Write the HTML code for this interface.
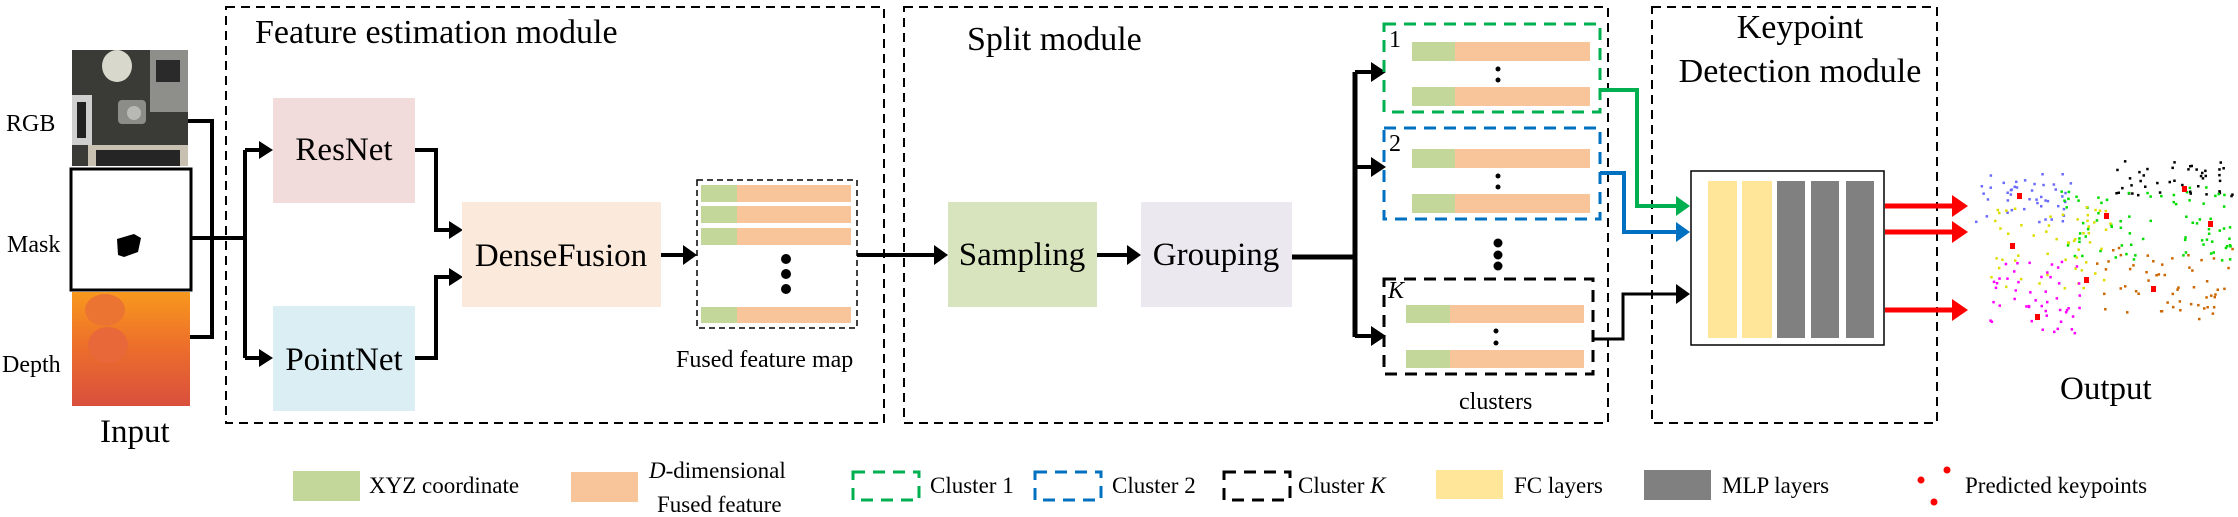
<!DOCTYPE html>
<html><head><meta charset="utf-8"><style>
html,body{margin:0;padding:0;background:#fff;}
svg{display:block;font-family:"Liberation Serif","Times New Roman",serif;}
svg text{font-family:"Liberation Serif","Times New Roman",serif;fill:#000;}
</style></head><body>
<svg id="s" width="2238" height="517" viewBox="0 0 2238 517" xmlns="http://www.w3.org/2000/svg" font-family="Liberation Serif, Times New Roman, serif">
<defs>
<linearGradient id="dg" x1="0" y1="0" x2="0" y2="1"><stop offset="0" stop-color="#f8981d"/><stop offset="0.5" stop-color="#ec6d2c"/><stop offset="1" stop-color="#d94f3d"/></linearGradient>
</defs>
<g fill="none" stroke="#000" stroke-width="2" stroke-dasharray="9 6">
<rect x="226" y="7" width="658" height="416"/>
<rect x="904" y="7" width="704" height="416"/>
<rect x="1652" y="7" width="285" height="416"/>
</g>
<text x="255" y="43" font-size="34">Feature estimation module</text>
<text x="967" y="50" font-size="34">Split module</text>
<text x="1800" y="38" font-size="34" text-anchor="middle">Keypoint</text>
<text x="1800" y="82" font-size="34" text-anchor="middle">Detection module</text>

<rect x="72" y="50" width="116" height="116" fill="#3a3a36"/>
<rect x="150" y="50" width="38" height="62" fill="#8e8f8a"/>
<rect x="156" y="60" width="24" height="22" fill="#2a2a2a"/>
<ellipse cx="117" cy="66" rx="15" ry="16" fill="#d8d8cc"/>
<rect x="118" y="100" width="28" height="24" rx="4" fill="#8c8c88"/>
<circle cx="134" cy="113" r="7" fill="#b8b8b4"/>
<rect x="72" y="95" width="20" height="50" fill="#cfcfcf"/>
<rect x="77" y="102" width="9" height="36" fill="#222"/>
<rect x="88" y="145" width="100" height="21" fill="#c8c0b0"/>
<rect x="96" y="150" width="84" height="16" fill="#252525"/>
<rect x="71" y="169" width="120" height="121" fill="#fff" stroke="#000" stroke-width="3"/>
<path d="M117 239 L134 234 L141 238 L138 252 L124 257 L118 255 Z" fill="#000"/>
<rect x="72" y="292" width="118" height="114" fill="url(#dg)"/>
<ellipse cx="105" cy="310" rx="20" ry="16" fill="#ec7432"/>
<ellipse cx="108" cy="345" rx="20" ry="18" fill="#e8683a"/>
<text x="6" y="131" font-size="24">RGB</text>
<text x="7" y="252" font-size="24">Mask</text>
<text x="2" y="372" font-size="24">Depth</text>
<text x="100" y="442" font-size="33">Input</text>

<g fill="none" stroke="#000" stroke-width="4">
<polyline points="188,121 212,121 212,337 190,337"/>
<line x1="191" y1="238" x2="245" y2="238"/>
<line x1="245" y1="150" x2="245" y2="358"/>
<line x1="245" y1="150" x2="262" y2="150"/>
<line x1="245" y1="358" x2="262" y2="358"/>
<polyline points="415,150 436,150 436,230 452,230"/>
<polyline points="415,358 436,358 436,277 452,277"/>
<line x1="661" y1="255" x2="686" y2="255"/>
<line x1="857" y1="255" x2="937" y2="255"/>
<line x1="1097" y1="255" x2="1130" y2="255"/>
<line x1="1292" y1="257" x2="1355" y2="257" stroke-width="5"/>
<line x1="1355" y1="72" x2="1355" y2="337" stroke-width="5"/>
<line x1="1355" y1="72" x2="1374" y2="72"/>
<line x1="1355" y1="167" x2="1374" y2="167"/>
<line x1="1355" y1="336" x2="1374" y2="336"/>
<polyline points="1594,339 1623,339 1623,294 1678,294" stroke-width="3"/>
</g>
<g fill="#000">
<polygon points="273,150 259,141 259,159"/>
<polygon points="273,358 259,349 259,367"/>
<polygon points="463,230 449,221 449,239"/>
<polygon points="463,277 449,268 449,286"/>
<polygon points="697,255 683,245 683,265"/>
<polygon points="948,255 934,245 934,265"/>
<polygon points="1141,255 1127,245 1127,265"/>
<polygon points="1386,72 1371,62 1371,82"/>
<polygon points="1386,167 1371,157 1371,177"/>
<polygon points="1386,336 1371,326 1371,346"/>
<polygon points="1690,294 1676,284 1676,304"/>
</g>

<rect x="273" y="98" width="142" height="105" fill="#f2dcdb"/>
<text x="344" y="160" font-size="33" text-anchor="middle">ResNet</text>
<rect x="273" y="306" width="142" height="105" fill="#dbeef3"/>
<text x="344" y="370" font-size="33" text-anchor="middle">PointNet</text>
<rect x="462" y="202" width="199" height="105" fill="#fbe9dc"/>
<text x="561" y="266" font-size="33" text-anchor="middle">DenseFusion</text>

<rect x="697" y="180" width="160" height="148" fill="none" stroke="#000" stroke-width="1.5" stroke-dasharray="6 4"/>
<g>
<rect x="701" y="185" width="36" height="17" fill="#c4d79b"/><rect x="737" y="185" width="114" height="17" fill="#f8c59b"/>
<rect x="701" y="206" width="36" height="17" fill="#c4d79b"/><rect x="737" y="206" width="114" height="17" fill="#f8c59b"/>
<rect x="701" y="228" width="36" height="17" fill="#c4d79b"/><rect x="737" y="228" width="114" height="17" fill="#f8c59b"/>
<rect x="701" y="307" width="36" height="16" fill="#c4d79b"/><rect x="737" y="307" width="114" height="16" fill="#f8c59b"/>
<circle cx="786" cy="259" r="5"/><circle cx="786" cy="274" r="5"/><circle cx="786" cy="289" r="5"/>
</g>
<text x="676" y="367" font-size="24">Fused feature map</text>

<rect x="948" y="202" width="149" height="105" fill="#d7e4bd"/>
<text x="1022" y="265" font-size="33" text-anchor="middle">Sampling</text>
<rect x="1141" y="202" width="151" height="105" fill="#ebe8f0"/>
<text x="1216" y="265" font-size="33" text-anchor="middle">Grouping</text>

<g fill="none" stroke-width="3" stroke-dasharray="12 8">
<rect x="1384" y="24" width="216" height="88" stroke="#00b050"/>
<rect x="1384" y="128" width="216" height="91" stroke="#0070c0"/>
<rect x="1384" y="279" width="209" height="95" stroke="#000"/>
</g>
<g>
<rect x="1412" y="42" width="43" height="19" fill="#c4d79b"/><rect x="1455" y="42" width="135" height="19" fill="#f8c59b"/>
<rect x="1412" y="87" width="43" height="19" fill="#c4d79b"/><rect x="1455" y="87" width="135" height="19" fill="#f8c59b"/>
<rect x="1412" y="149" width="43" height="19" fill="#c4d79b"/><rect x="1455" y="149" width="135" height="19" fill="#f8c59b"/>
<rect x="1412" y="194" width="43" height="19" fill="#c4d79b"/><rect x="1455" y="194" width="135" height="19" fill="#f8c59b"/>
<rect x="1406" y="305" width="44" height="18" fill="#c4d79b"/><rect x="1450" y="305" width="134" height="18" fill="#f8c59b"/>
<rect x="1406" y="350" width="44" height="18" fill="#c4d79b"/><rect x="1450" y="350" width="134" height="18" fill="#f8c59b"/>
<circle cx="1498" cy="69" r="2.5"/><circle cx="1498" cy="80" r="2.5"/>
<circle cx="1498" cy="176" r="2.5"/><circle cx="1498" cy="187" r="2.5"/>
<circle cx="1496" cy="331" r="2.5"/><circle cx="1496" cy="343" r="2.5"/>
<circle cx="1498" cy="243" r="4.5"/><circle cx="1498" cy="255" r="4.5"/><circle cx="1498" cy="266" r="4.5"/>
</g>
<text x="1389" y="47" font-size="24">1</text>
<text x="1389" y="151" font-size="24">2</text>
<text x="1388" y="298" font-size="24" font-style="italic">K</text>
<text x="1459" y="409" font-size="24">clusters</text>

<polyline points="1600,90 1637,90 1637,206 1678,206" fill="none" stroke="#00b050" stroke-width="4"/>
<polygon points="1690,206 1676,196 1676,216" fill="#00b050"/>
<polyline points="1600,173 1624,173 1624,232 1678,232" fill="none" stroke="#0070c0" stroke-width="4"/>
<polygon points="1690,232 1676,222 1676,242" fill="#0070c0"/>

<rect x="1691" y="171" width="193" height="174" fill="#fff" stroke="#000" stroke-width="1.5"/>
<rect x="1708" y="181" width="29" height="157" fill="#ffe699"/>
<rect x="1742" y="181" width="30" height="157" fill="#ffe699"/>
<rect x="1777" y="181" width="28" height="157" fill="#808080"/>
<rect x="1811" y="181" width="28" height="157" fill="#808080"/>
<rect x="1846" y="181" width="28" height="157" fill="#808080"/>
<g stroke="#ff0000" stroke-width="5"><line x1="1885" y1="206" x2="1955" y2="206"/><line x1="1885" y1="232" x2="1955" y2="232"/><line x1="1885" y1="310" x2="1955" y2="310"/></g>
<g fill="#ff0000"><polygon points="1968,206 1952,195 1952,217"/><polygon points="1968,232 1952,221 1952,243"/><polygon points="1968,310 1952,299 1952,321"/></g>

<g id="pc"></g>
<text x="2060" y="399" font-size="33">Output</text>

<rect x="293" y="471" width="67" height="30" fill="#c4d79b"/>
<text x="369" y="493" font-size="23">XYZ coordinate</text>
<rect x="571" y="472" width="67" height="30" fill="#f8c59b"/>
<text x="649" y="478" font-size="23"><tspan font-style="italic">D</tspan>-dimensional</text>
<text x="657" y="512" font-size="23">Fused feature</text>
<g fill="none" stroke-width="3" stroke-dasharray="12 8">
<rect x="853" y="472" width="66" height="28" stroke="#00b050"/>
<rect x="1035" y="472" width="66" height="28" stroke="#0070c0"/>
<rect x="1224" y="472" width="66" height="28" stroke="#000"/>
</g>
<text x="930" y="493" font-size="23">Cluster 1</text>
<text x="1112" y="493" font-size="23">Cluster 2</text>
<text x="1298" y="493" font-size="23">Cluster <tspan font-style="italic">K</tspan></text>
<rect x="1436" y="470" width="67" height="29" fill="#ffe699"/>
<text x="1514" y="493" font-size="23">FC layers</text>
<rect x="1644" y="470" width="67" height="30" fill="#808080"/>
<text x="1722" y="493" font-size="23">MLP layers</text>
<g fill="#ff0000"><circle cx="1921" cy="480" r="3.5"/><circle cx="1947" cy="470" r="3.5"/><circle cx="1934" cy="502" r="3.5"/></g>
<text x="1965" y="493" font-size="23">Predicted keypoints</text>
</svg>
<script>
(function(){
var seed=7;function r(){seed=(seed*16807)%2147483647;return seed/2147483647;}
var g=document.getElementById('pc');var ns='http://www.w3.org/2000/svg';
var cl=[["#6a6aff",1975,2070,170,225,45],["#000",2115,2232,160,195,45],["#00dd00",2060,2150,190,260,40],["#00dd00",2160,2232,185,260,40],["#dddd00",1990,2110,205,290,55],["#cc6600",2090,2232,245,320,55],["#ff00ff",1988,2080,260,332,50]];
cl.forEach(function(c){for(var i=0;i<c[5];i++){var e=document.createElementNS(ns,'rect');e.setAttribute('x',(c[1]+r()*(c[2]-c[1])).toFixed(1));e.setAttribute('y',(c[3]+r()*(c[4]-c[3])).toFixed(1));e.setAttribute('width',2.5);e.setAttribute('height',2.5);e.setAttribute('fill',c[0]);g.appendChild(e);}});
[[2017,193],[2104,213],[2182,186],[2208,221],[2010,243],[2084,277],[2151,286],[2035,314]].forEach(function(p){var e=document.createElementNS(ns,'rect');e.setAttribute('x',p[0]);e.setAttribute('y',p[1]);e.setAttribute('width',5);e.setAttribute('height',6);e.setAttribute('fill','#ff0000');g.appendChild(e);});
})();
</script>
</body></html>
